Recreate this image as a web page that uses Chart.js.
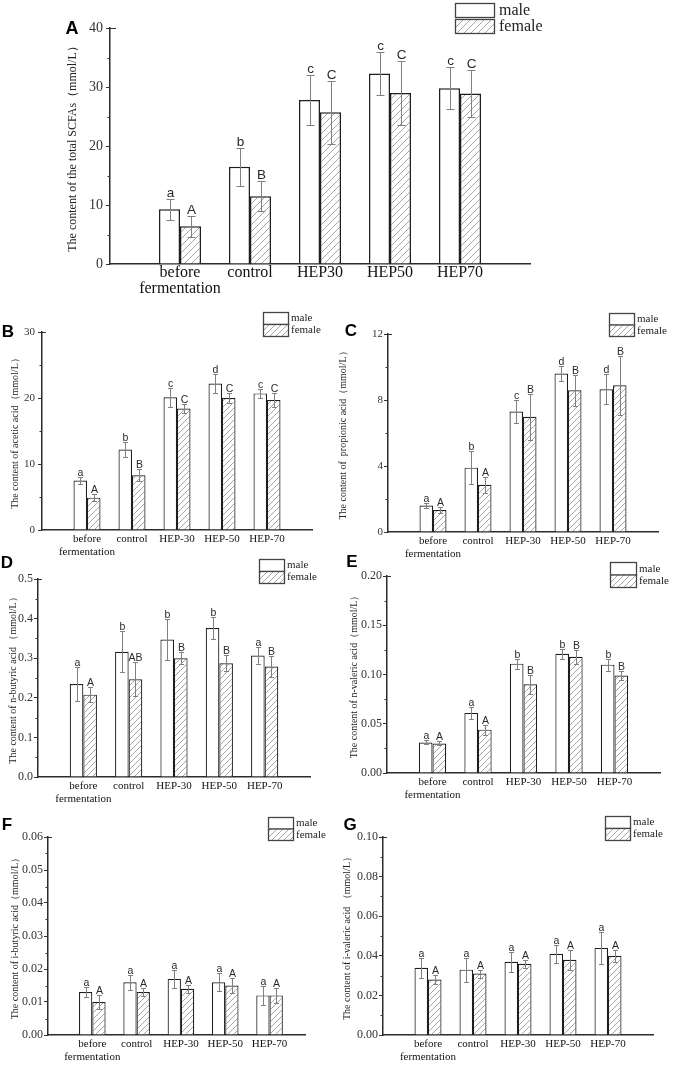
<!DOCTYPE html>
<html><head><meta charset="utf-8">
<script src="https://cdn.jsdelivr.net/npm/chart.js@4.4.1/dist/chart.umd.min.js"></script>
<style>
html,body{margin:0;padding:0;background:#fff;}
body{width:675px;height:1066px;position:relative;overflow:hidden;}
.panel{position:absolute;}
.panel canvas{display:block;}
</style></head><body>
<div class="panel" style="left:0;top:0"><canvas id="cA" width="544" height="300"></canvas></div>
<div class="panel" style="left:0;top:300px"><canvas id="cB" width="330" height="262"></canvas></div>
<div class="panel" style="left:330px;top:300px"><canvas id="cC" width="345" height="262"></canvas></div>
<div class="panel" style="left:0;top:545px"><canvas id="cD" width="330" height="270"></canvas></div>
<div class="panel" style="left:330px;top:545px"><canvas id="cE" width="345" height="270"></canvas></div>
<div class="panel" style="left:0;top:800px"><canvas id="cF" width="330" height="266"></canvas></div>
<div class="panel" style="left:330px;top:800px"><canvas id="cG" width="345" height="266"></canvas></div>
<script>
// ---------- data ----------
const seriesNames = ['male', 'female'];
const categoriesA = ['before fermentation', 'control', 'HEP30', 'HEP50', 'HEP70'];
const categories = ['before fermentation', 'control', 'HEP-30', 'HEP-50', 'HEP-70'];

// A: total SCFAs (mmol/L)
const totalMale = [9.3, 16.5, 27.8, 32.3, 29.8];
const totalMaleErr = [1.8, 3.2, 4.2, 3.6, 3.6];
const totalFemale = [6.4, 11.5, 25.7, 29.0, 28.9];
const totalFemaleErr = [1.8, 2.6, 5.4, 5.4, 3.9];
const totalMaleSig = ['a', 'b', 'c', 'c', 'c'];
const totalFemaleSig = ['A', 'B', 'C', 'C', 'C'];
const totalTicks = [0, 10, 20, 30, 40];

// B: acetic acid
const aceticMale = [7.5, 12.2, 20.1, 22.2, 20.7];
const aceticMaleErr = [0.5, 1.1, 1.4, 1.4, 0.65];
const aceticFemale = [4.9, 8.3, 18.4, 20.0, 19.7];
const aceticFemaleErr = [0.5, 0.9, 0.7, 0.7, 1.05];
const aceticMaleSig = ['a', 'b', 'c', 'd', 'c'];
const aceticFemaleSig = ['A', 'B', 'C', 'C', 'C'];
const aceticTicks = [0, 10, 20, 30];

// C: propionic acid
const propionicMale = [1.6, 3.9, 7.3, 9.6, 8.65];
const propionicMaleErr = [0.15, 1.0, 0.7, 0.45, 0.9];
const propionicFemale = [1.33, 2.86, 6.98, 8.59, 8.89];
const propionicFemaleErr = [0.17, 0.47, 1.38, 0.95, 1.78];
const propionicMaleSig = ['a', 'b', 'c', 'd', 'd'];
const propionicFemaleSig = ['A', 'A', 'B', 'B', 'B'];
const propionicTicks = [0, 4, 8, 12];

// D: n-butyric acid
const nButyricMale = [0.235, 0.316, 0.347, 0.376, 0.307];
const nButyricMaleErr = [0.043, 0.052, 0.052, 0.028, 0.022];
const nButyricFemale = [0.208, 0.247, 0.300, 0.287, 0.279];
const nButyricFemaleErr = [0.019, 0.043, 0.015, 0.020, 0.026];
const nButyricMaleSig = ['a', 'b', 'b', 'b', 'a'];
const nButyricFemaleSig = ['A', 'AB', 'B', 'B', 'B'];
const nButyricTicks = [0.0, 0.1, 0.2, 0.3, 0.4, 0.5];

// E: n-valeric acid
const nValericMale = [0.031, 0.061, 0.111, 0.121, 0.110];
const nValericMaleErr = [0.002, 0.006, 0.005, 0.005, 0.006];
const nValericFemale = [0.030, 0.044, 0.090, 0.118, 0.099];
const nValericFemaleErr = [0.002, 0.005, 0.010, 0.007, 0.005];
const nValericMaleSig = ['a', 'a', 'b', 'b', 'b'];
const nValericFemaleSig = ['A', 'A', 'B', 'B', 'B'];
const nValericTicks = [0.00, 0.05, 0.10, 0.15, 0.20];

// F: i-butyric acid
const iButyricMale = [0.013, 0.016, 0.017, 0.016, 0.012];
const iButyricMaleErr = [0.0014, 0.0023, 0.0028, 0.0027, 0.003];
const iButyricFemale = [0.010, 0.013, 0.014, 0.015, 0.012];
const iButyricFemaleErr = [0.0022, 0.0013, 0.0012, 0.0024, 0.0022];
const iButyricMaleSig = ['a', 'a', 'a', 'a', 'a'];
const iButyricFemaleSig = ['A', 'A', 'A', 'A', 'A'];
const iButyricTicks = [0.00, 0.01, 0.02, 0.03, 0.04, 0.05, 0.06];

// G: i-valeric acid
const iValericMale = [0.034, 0.033, 0.037, 0.041, 0.044];
const iValericMaleErr = [0.005, 0.006, 0.005, 0.0044, 0.008];
const iValericFemale = [0.028, 0.031, 0.036, 0.038, 0.040];
const iValericFemaleErr = [0.0023, 0.002, 0.002, 0.005, 0.003];
const iValericMaleSig = ['a', 'a', 'a', 'a', 'a'];
const iValericFemaleSig = ['A', 'A', 'A', 'A', 'A'];
const iValericTicks = [0.00, 0.02, 0.04, 0.06, 0.08, 0.10];

// ---------- helpers ----------
const SERIF = '"Liberation Serif", "Times New Roman", serif';
const SANS = '"Liberation Sans", Arial, sans-serif';
Chart.defaults.font.family = SERIF;

function hatchPattern(size) {
  const c = document.createElement('canvas');
  c.width = size; c.height = size;
  const g = c.getContext('2d');
  g.fillStyle = '#ffffff'; g.fillRect(0, 0, size, size);
  g.strokeStyle = '#a6a6a6'; g.lineWidth = 1;
  g.beginPath();
  g.moveTo(0, size); g.lineTo(size, 0);
  g.moveTo(-1, 1); g.lineTo(1, -1);
  g.moveTo(size - 1, size + 1); g.lineTo(size + 1, size - 1);
  g.stroke();
  return g.createPattern(c, 'repeat');
}

function makeDecor(cfg) {
  return {
    id: 'decor' + cfg.id,
    afterDatasetsDraw(chart) {
      const ctx = chart.ctx, ys = chart.scales.y;
      ctx.save();
      chart.data.datasets.forEach((ds, di) => {
        const meta = chart.getDatasetMeta(di);
        meta.data.forEach((bar, i) => {
          const v = ds.data[i].y, e = ds.errorBars[i];
          const x = Math.round(bar.x) + 0.5;
          const yt = Math.round(ys.getPixelForValue(v + e)) + 0.5;
          const yb = Math.round(ys.getPixelForValue(v - e)) + 0.5;
          ctx.strokeStyle = '#808080'; ctx.lineWidth = 1;
          ctx.beginPath();
          ctx.moveTo(x, yt); ctx.lineTo(x, yb);
          ctx.moveTo(x - cfg.cap / 2, yt); ctx.lineTo(x + cfg.cap / 2, yt);
          ctx.moveTo(x - cfg.cap / 2, yb); ctx.lineTo(x + cfg.cap / 2, yb);
          ctx.stroke();
          ctx.fillStyle = '#2a2a2a';
          ctx.font = cfg.sigSize + 'px ' + SANS;
          ctx.textAlign = 'center'; ctx.textBaseline = 'alphabetic';
          ctx.fillText(ds.sig[i], x, yt - cfg.sigGap);
        });
      });
      ctx.restore();
    },
    afterDraw(chart) {
      const ctx = chart.ctx, ys = chart.scales.y, area = chart.chartArea;
      ctx.save();
      // minor ticks
      ctx.strokeStyle = '#333'; ctx.lineWidth = 1;
      ctx.beginPath();
      const t = cfg.yTicks;
      for (let k = 0; k < t.length - 1; k++) {
        const mv = (t[k] + t[k + 1]) / 2;
        const py = Math.round(ys.getPixelForValue(mv)) + 0.5;
        ctx.moveTo(area.left - 2.5, py); ctx.lineTo(area.left, py);
      }
      // top stub
      const ty = Math.round(area.top) + 0.5;
      ctx.moveTo(area.left, ty); ctx.lineTo(area.left + cfg.stub, ty);
      ctx.stroke();
      // legend
      const L = cfg.legend;
      chart.data.datasets.forEach((ds, i) => {
        const by = L.y + i * (L.h + L.gap);
        ctx.fillStyle = ds.backgroundColor;
        ctx.fillRect(L.x, by, L.w, L.h);
        ctx.strokeStyle = '#444'; ctx.lineWidth = 1.3;
        ctx.strokeRect(L.x + 0.5, by + 0.5, L.w, L.h);
        ctx.fillStyle = '#222';
        ctx.font = L.font + 'px ' + SERIF;
        ctx.textAlign = 'left'; ctx.textBaseline = 'middle';
        ctx.fillText(ds.label, L.tx, by + L.h / 2 + 0.5);
      });
      // panel letter
      ctx.fillStyle = '#000';
      ctx.font = 'bold ' + cfg.letter.size + 'px ' + SANS;
      ctx.textAlign = 'center'; ctx.textBaseline = 'middle';
      ctx.fillText(cfg.letter.text, cfg.letter.x, cfg.letter.y);
      ctx.restore();
    }
  };
}

function makePanel(cfg) {
  const canvas = document.getElementById(cfg.id);
  const W = canvas.width, H = canvas.height;
  const a = cfg.area;
  const cats = cfg.cats;
  const titleLH = cfg.titleSize * 1.2;
  new Chart(canvas, {
    type: 'bar',
    data: {
      datasets: [
        { label: seriesNames[0], data: cfg.male.map((v, i) => ({ x: i + 1, y: v })),
          errorBars: cfg.maleErr, sig: cfg.maleSig,
          backgroundColor: '#ffffff', borderColor: '#1e1e1e', borderWidth: cfg.bw },
        { label: seriesNames[1], data: cfg.female.map((v, i) => ({ x: i + 1, y: v })),
          errorBars: cfg.femaleErr, sig: cfg.femaleSig,
          backgroundColor: hatchPattern(cfg.hatch), borderColor: '#1e1e1e', borderWidth: cfg.bw }
      ]
    },
    options: {
      responsive: false, animation: false, devicePixelRatio: 1,
      events: [],
      datasets: { bar: { categoryPercentage: 0.6, barPercentage: 1.0 } },
      layout: { autoPadding: false, padding: { left: 0, top: a.top, right: W - a.right, bottom: 0 } },
      plugins: { legend: { display: false }, tooltip: { enabled: false }, title: { display: false } },
      scales: {
        x: {
          type: 'linear', min: 0, max: cfg.xMax, offset: false,
          afterBuildTicks: s => { s.ticks = cats.map((c, i) => ({ value: i + 1 })); },
          afterFit: s => { s.height = H - a.bottom; },
          grid: { display: false, drawTicks: false },
          border: { display: true, color: '#2b2b2b', width: 1.5 },
          ticks: {
            autoSkip: false, maxRotation: 0, minRotation: 0, padding: cfg.xPad,
            color: '#111',
            font: { family: SERIF, size: cfg.xSize, weight: cfg.xWeight, lineHeight: cfg.xLH },
            callback: v => { const c = cats[Math.round(v) - 1]; return c ? c.split(' ') : ''; }
          }
        },
        y: {
          min: cfg.yTicks[0], max: cfg.yTicks[cfg.yTicks.length - 1],
          afterBuildTicks: s => { s.ticks = cfg.yTicks.map(v => ({ value: v })); },
          afterFit: s => { s.width = a.left; },
          grid: { display: true, drawOnChartArea: false, drawTicks: true, tickLength: 4, tickColor: '#333', tickWidth: 1 },
          border: { display: true, color: '#2b2b2b', width: 1.5 },
          ticks: {
            padding: cfg.yPad, color: '#333',
            font: { family: SERIF, size: cfg.ySize },
            callback: v => Number(v).toFixed(cfg.dec)
          },
          title: {
            display: true, text: cfg.title, color: '#222',
            font: { family: SERIF, size: cfg.titleSize },
            padding: { top: cfg.titleX - titleLH / 2, bottom: 0 }
          }
        }
      }
    },
    plugins: [makeDecor(cfg)]
  });
}

const common = { bw: 1.2, hatch: 6, cap: 5, sigSize: 10.5, sigGap: 2, xSize: 11, xWeight: 'normal', xLH: 1.18, xPad: 2.5, ySize: 12, yPad: 1, titleSize: 10, stub: 4, xMax: 6 };

makePanel({ id: 'cA', cats: categoriesA, area: { left: 110, right: 530, top: 28, bottom: 264 },
  male: totalMale, maleErr: totalMaleErr, female: totalFemale, femaleErr: totalFemaleErr,
  maleSig: totalMaleSig, femaleSig: totalFemaleSig, yTicks: totalTicks, dec: 0,
  title: 'The content of the total SCFAs（mmol/L）', titleSize: 12, titleX: 73,
  bw: 1.5, hatch: 7, cap: 8, sigSize: 13.5, sigGap: 3, xSize: 16, xWeight: 'normal', xLH: 0.95, xPad: 1.5,
  ySize: 14, yPad: 3, stub: 6, xMax: 6,
  legend: { x: 455, y: 3, w: 39, h: 14, gap: 2, tx: 499, font: 16 },
  letter: { text: 'A', x: 72, y: 29, size: 18 } });

makePanel(Object.assign({}, common, { id: 'cB', cats: categories, area: { left: 42, right: 312, top: 32, bottom: 230 },
  male: aceticMale, maleErr: aceticMaleErr, female: aceticFemale, femaleErr: aceticFemaleErr,
  maleSig: aceticMaleSig, femaleSig: aceticFemaleSig, yTicks: aceticTicks, dec: 0, ySize: 11, yPad: 3,
  title: 'The content of acetic acid（mmol/L）', titleX: 15,
  legend: { x: 263, y: 12, w: 25, h: 12, gap: 0, tx: 291, font: 11 },
  letter: { text: 'B', x: 8, y: 32, size: 17 } }));

makePanel(Object.assign({}, common, { id: 'cC', cats: categories, area: { left: 58, right: 328, top: 34, bottom: 232 },
  male: propionicMale, maleErr: propionicMaleErr, female: propionicFemale, femaleErr: propionicFemaleErr,
  maleSig: propionicMaleSig, femaleSig: propionicFemaleSig, yTicks: propionicTicks, dec: 0, ySize: 11,
  title: 'The content of  propionic acid（mmol/L）', titleX: 13,
  legend: { x: 279, y: 13, w: 25, h: 11.5, gap: 0, tx: 307, font: 11 },
  letter: { text: 'C', x: 21, y: 31, size: 17 } }));

makePanel(Object.assign({}, common, { id: 'cD', cats: categories, area: { left: 38, right: 310, top: 34, bottom: 232 },
  male: nButyricMale, maleErr: nButyricMaleErr, female: nButyricFemale, femaleErr: nButyricFemaleErr,
  maleSig: nButyricMaleSig, femaleSig: nButyricFemaleSig, yTicks: nButyricTicks, dec: 1,
  title: 'The content of n-butyric acid （mmol/L）', titleX: 13,
  legend: { x: 259, y: 14, w: 25, h: 12, gap: 0, tx: 287, font: 11 },
  letter: { text: 'D', x: 7, y: 18, size: 17 } }));

makePanel(Object.assign({}, common, { id: 'cE', cats: categories, area: { left: 57, right: 330, top: 31, bottom: 228 },
  male: nValericMale, maleErr: nValericMaleErr, female: nValericFemale, femaleErr: nValericFemaleErr,
  maleSig: nValericMaleSig, femaleSig: nValericFemaleSig, yTicks: nValericTicks, dec: 2,
  title: 'The content of n-valeric acid（mmol/L）', titleX: 24,
  legend: { x: 280, y: 17, w: 26, h: 12.5, gap: 0, tx: 309, font: 11 },
  letter: { text: 'E', x: 22, y: 17, size: 17 } }));

makePanel(Object.assign({}, common, { id: 'cF', cats: categories, area: { left: 48, right: 305, top: 37, bottom: 235 },
  male: iButyricMale, maleErr: iButyricMaleErr, female: iButyricFemale, femaleErr: iButyricFemaleErr,
  maleSig: iButyricMaleSig, femaleSig: iButyricFemaleSig, yTicks: iButyricTicks, dec: 2, xMax: 5.8,
  title: 'The content of i-butyric acid（mmol/L）', titleX: 15,
  legend: { x: 268, y: 17, w: 25, h: 11.5, gap: 0, tx: 296, font: 11 },
  letter: { text: 'F', x: 7, y: 25, size: 17 } }));

makePanel(Object.assign({}, common, { id: 'cG', cats: categories, area: { left: 53, right: 323, top: 37, bottom: 235 },
  male: iValericMale, maleErr: iValericMaleErr, female: iValericFemale, femaleErr: iValericFemaleErr,
  maleSig: iValericMaleSig, femaleSig: iValericFemaleSig, yTicks: iValericTicks, dec: 2,
  title: 'The content of i-valeric acid （mmol/L）', titleX: 17,
  legend: { x: 275, y: 16, w: 25, h: 12, gap: 0, tx: 303, font: 11 },
  letter: { text: 'G', x: 20, y: 25, size: 17 } }));
</script>
</body></html>
